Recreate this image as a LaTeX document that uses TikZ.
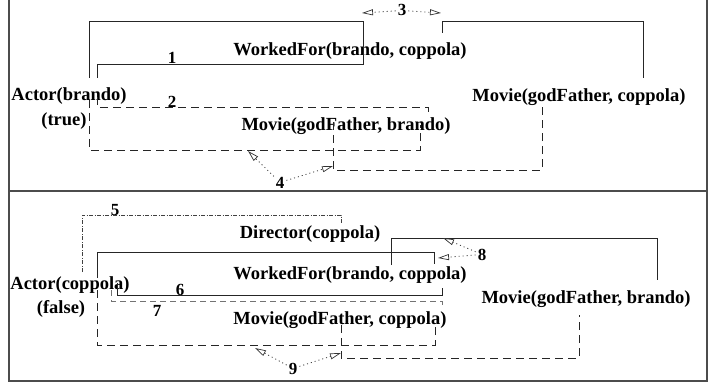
\documentclass[tikz,border=0pt]{standalone}
\usepackage{fontspec}
\setmainfont{Liberation Serif}
\usetikzlibrary{arrows.meta}
\begin{document}
\begin{tikzpicture}[x=1pt,y=-1pt,
  lbl/.style={anchor=base,inner sep=0pt,font=\fontsize{18.5}{20}\selectfont\bfseries},
  num/.style={anchor=base,inner sep=1pt,font=\fontsize{17}{20}\selectfont\bfseries},
  frame/.style={line width=1.2pt,black!70},
  link/.style={line width=0.9pt,black!85},
  dashlink/.style={line width=0.9pt,black!85,dash pattern=on 8pt off 5pt},
  greylink/.style={line width=0.9pt,black!55,dash pattern=on 6pt off 4pt},
  dashdotlink/.style={line width=0.7pt,black!75,dash pattern=on 4pt off 1.5pt on 1pt off 1.5pt},
  hint/.style={line width=0.8pt,black!80,dash pattern=on 1pt off 3pt,
    -{Triangle[open,length=11pt,width=6pt,line width=0.7pt]},shorten <=1pt}
]
\useasboundingbox (0,0) rectangle (709,385);

% outer frame and panel divider
\draw[frame] (9,0) -- (9,381) -- (707,381) -- (707,0);
\draw[frame] (9,191) -- (707,191);

% ---------------- upper panel ----------------
\node[lbl] (wf1)  at (350,56)  {WorkedFor(brando, coppola)};
\node[lbl] (actB) at (69,101)  {Actor(brando)};
\node[lbl] (trueN) at (64,126) {(true)};
\node[lbl] (mvB)  at (346,131) {Movie(godFather, brando)};
\node[lbl] (mvC)  at (579,102) {Movie(godFather, coppola)};

\node[num] (n1) at (172,64)  {1};
\node[num] (n2) at (172,108) {2};
\node[num] (n3) at (402,16)  {3};
\node[num] (n4) at (280,188) {4};

% Actor(brando) -- WorkedFor(brando, coppola)
\draw[link] (89,78) -- (89,21) -- (363,21) -- (363,64) -- (97,64) -- (97,78);
% WorkedFor(brando, coppola) -- Movie(godFather, coppola)
\draw[link] (442,33) -- (442,21) -- (643,21) -- (643,78);
% Actor(brando) -- Movie(godFather, brando)
\draw[dashlink] (97,97) -- (97,107) -- (428,107) -- (428,113);
\draw[dashlink] (89,100) -- (89,150) -- (420,150) -- (420,125);
% Movie(godFather, brando) -- Movie(godFather, coppola)
\draw[dashlink] (333,122) -- (333,170) -- (542,170) -- (542,107);

\coordinate (t3a) at (362,13);
\coordinate (t3b) at (441,13);
\coordinate (t4a) at (248,151);
\coordinate (t4b) at (333,166);
\draw[hint] (n3) -- (t3a);
\draw[hint] (n3) -- (t3b);
\draw[hint] (n4) -- (t4a);
\draw[hint] (n4) -- (t4b);

% ---------------- lower panel ----------------
\node[lbl] (dir)   at (310,238) {Director(coppola)};
\node[lbl] (wf2)   at (350,279) {WorkedFor(brando, coppola)};
\node[lbl] (actC)  at (70,289)  {Actor(coppola)};
\node[lbl] (falseN) at (61,313) {(false)};
\node[lbl] (mvC2)  at (340,324) {Movie(godFather, coppola)};
\node[lbl] (mvB2)  at (586,303) {Movie(godFather, brando)};

\node[num] (n5) at (115,215) {5};
\node[num] (n6) at (180,295) {6};
\node[num] (n7) at (157,316) {7};
\node[num] (n8) at (482,260) {8};
\node[num] (n9) at (293,374) {9};

% Actor(coppola) -- Director(coppola)
\draw[dashdotlink] (82,272) -- (82,215) -- (341,215) -- (341,223);
% Actor(coppola) -- WorkedFor(brando, coppola)
\draw[link] (97,278) -- (97,252) -- (434,252) -- (434,264);
\draw[link] (117,283) -- (117,295) -- (442,295) -- (442,288);
% WorkedFor(brando, coppola) -- Movie(godFather, brando)
\draw[link] (391,265) -- (391,238) -- (657,238) -- (657,280);
% Actor(coppola) -- Movie(godFather, coppola)
\draw[greylink] (111,290) -- (111,301) -- (442,301) -- (442,308);
\draw[dashlink] (97,290) -- (97,345) -- (435,345) -- (435,323);
% Movie(godFather, coppola) -- Movie(godFather, brando)
\draw[dashlink] (341,325) -- (341,358) -- (579,358) -- (579,315);

\coordinate (t8a) at (438,258);
\coordinate (t8b) at (443,238);
\coordinate (t9a) at (255,348);
\coordinate (t9b) at (341,353);
\draw[hint] (n8) -- (t8a);
\draw[hint] (n8) -- (t8b);
\draw[hint] (n9) -- (t9a);
\draw[hint] (n9) -- (t9b);
\end{tikzpicture}
\end{document}
